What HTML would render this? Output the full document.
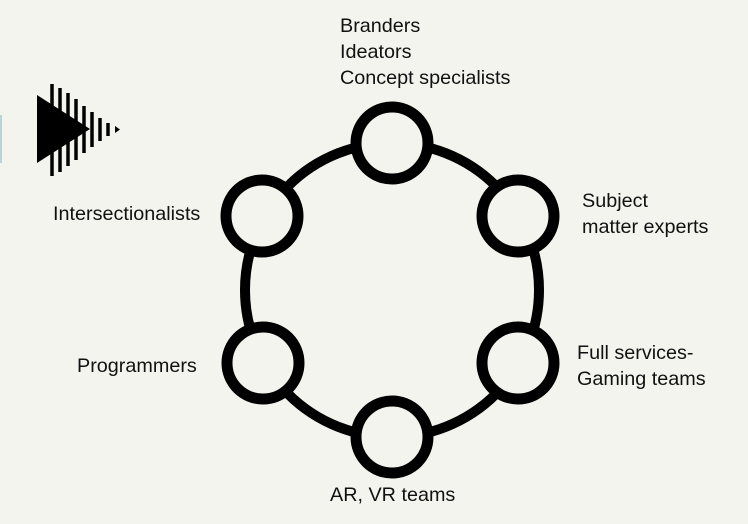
<!DOCTYPE html>
<html><head><style>
body{margin:0;background:#f4f4ef;}
.t{position:absolute;font-family:"Liberation Sans",sans-serif;font-size:19.8px;color:#111;line-height:26px;}
</style></head><body>
<div style="position:relative;width:748px;height:524px;overflow:hidden;background:#f4f4ef">
<svg width="748" height="524" style="position:absolute;left:0;top:0">
<rect x="0" y="115" width="2" height="48" fill="#bcd3d6"/>
<polygon points="37,95 37,163 90,129" fill="#000"/>
<g stroke="#000" stroke-width="3.5">
<line x1="52" y1="84" x2="52" y2="176"/>
<line x1="60" y1="88" x2="60" y2="172"/>
<line x1="68" y1="93" x2="68" y2="166"/>
<line x1="76" y1="99" x2="76" y2="160"/>
<line x1="84" y1="106" x2="84" y2="153"/>
<line x1="92" y1="112" x2="92" y2="147"/>
<line x1="100" y1="118" x2="100" y2="141"/>
<line x1="108" y1="123" x2="108" y2="136"/>
</g>
<polygon points="115,126 115,133 120,129.5" fill="#000"/>
<circle cx="392" cy="290" r="147" fill="none" stroke="#000" stroke-width="10"/>
<g fill="#f4f4ef" stroke="#000" stroke-width="11">
<circle cx="392" cy="143" r="36"/>
<circle cx="262" cy="216" r="36"/>
<circle cx="518" cy="216" r="36"/>
<circle cx="263" cy="363" r="36"/>
<circle cx="518" cy="363" r="36"/>
<circle cx="392" cy="437" r="36"/>
</g>
</svg>
<div class="t" style="left:340px;top:13px">Branders<br>Ideators<br>Concept specialists</div>
<div class="t" style="left:582px;top:188px">Subject<br>matter experts</div>
<div class="t" style="left:53px;top:201px">Intersectionalists</div>
<div class="t" style="left:77px;top:353px">Programmers</div>
<div class="t" style="left:577px;top:340px">Full services-<br>Gaming teams</div>
<div class="t" style="left:330px;top:482px">AR, VR teams</div>
</div>
</body></html>
